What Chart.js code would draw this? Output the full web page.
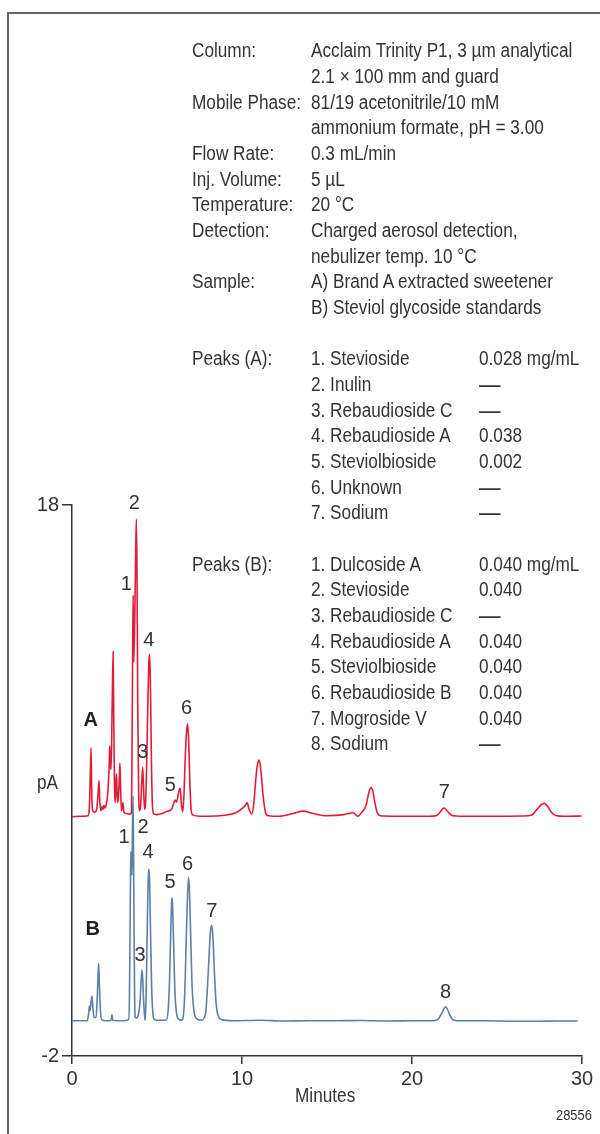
<!DOCTYPE html>
<html>
<head>
<meta charset="utf-8">
<script src="https://cdn.jsdelivr.net/npm/chart.js@4.4.1/dist/chart.umd.min.js"></script>
<style>
    body { margin: 0; background: #fff; }
    #wrap { position: relative; width: 600px; height: 1134px; overflow: hidden; color: #333;
            font-family: 'Liberation Sans', Arial, sans-serif; }
    #frame { position: absolute; left: 7px; top: 12px; width: 700px; height: 1200px;
             border-left: 2px solid #666; border-top: 2px solid #666; }
    #chart { position: absolute; left: 0; top: 0; }
    .t { position: absolute; font-size: 20px; line-height: 26px; white-space: nowrap;
         transform: scaleX(0.86); transform-origin: 0 50%; }
</style>
</head>
<body>
<div id="wrap">
    <div id="frame"></div>
    <canvas id="chart" width="600" height="1134"></canvas>
    <div id="info"></div>
</div>
<script>
// trace A: Brand A extracted sweetener (red)
var timesA = [0, 0.5, 0.95, 1.02, 1.07, 1.12, 1.16, 1.22, 1.35, 1.45, 1.52, 1.59, 1.64, 1.7, 1.76, 1.82, 1.88, 1.95,
    2.02, 2.08, 2.14, 2.19, 2.22, 2.26, 2.3, 2.36, 2.42, 2.46, 2.5, 2.54, 2.58, 2.62, 2.66, 2.7, 2.75, 2.79, 2.82, 2.86,
    2.91, 2.96, 3.0, 3.05, 3.2, 3.4, 3.5, 3.53, 3.57, 3.6, 3.63, 3.7, 3.76, 3.79, 3.83, 3.87, 3.92, 3.98,
    4.04, 4.1, 4.16, 4.21, 4.27, 4.32, 4.39, 4.46, 4.52, 4.57, 4.62, 4.67, 4.73, 4.8, 5.0, 5.3, 5.6, 5.85, 5.95,
    6.06, 6.15, 6.25, 6.33, 6.37, 6.43, 6.51, 6.58, 6.66, 6.73, 6.8, 6.86, 6.93, 7.0, 7.1, 7.5, 8.0, 9.0, 9.6,
    10.0, 10.2, 10.3, 10.42, 10.57, 10.7, 10.82, 10.92, 11.02, 11.12, 11.25, 11.38, 11.55, 12.2, 13.0, 13.6, 14.2,
    15.0, 16.0, 16.55, 16.8, 17.05, 17.3, 17.42, 17.52, 17.6, 17.7, 17.8, 17.92, 18.05, 18.3, 19.5, 21.0, 21.45,
    21.65, 21.8, 21.9, 22.02, 22.2, 22.4, 23.5, 25, 26.5, 27.05, 27.35, 27.6, 27.78, 27.95, 28.2, 28.45, 29.0, 29.98];
var valuesA = [6.69, 6.7, 6.72, 7.0, 8.0, 9.19, 7.6, 6.9, 6.85, 6.95, 7.4, 8.0, 7.2, 6.9, 7.05, 6.95, 7.1, 7.0,
    7.15, 7.4, 7.9, 8.6, 9.26, 8.6, 8.4, 10.6, 12.68, 10.0, 7.8, 7.2, 7.9, 8.24, 7.4, 7.2, 7.6, 8.2, 8.63, 7.7,
    6.9, 7.05, 7.2, 6.85, 6.8, 6.78, 6.85, 9.0, 13.0, 14.73, 12.3, 14.2, 16.8, 17.49, 15.0, 10.5, 7.6, 6.9,
    7.1, 7.9, 8.48, 7.7, 6.95, 7.1, 8.5, 10.8, 12.3, 12.59, 11.2, 8.8, 7.1, 6.8, 6.76, 6.8, 6.88, 6.95, 7.1,
    7.29, 7.22, 7.5, 7.7, 7.72, 7.2, 6.86, 7.4, 8.8, 9.7, 10.06, 9.5, 8.0, 7.0, 6.75, 6.7, 6.7, 6.74, 6.82,
    6.98, 7.1, 7.2, 6.95, 6.78, 7.2, 8.1, 8.6, 8.74, 8.3, 7.4, 6.85, 6.72, 6.7, 6.8, 6.89, 6.8,
    6.72, 6.76, 6.83, 6.7, 6.85, 7.1, 7.45, 7.68, 7.74, 7.6, 7.25, 6.9, 6.75, 6.71, 6.7, 6.7, 6.73,
    6.85, 6.97, 7.0, 6.93, 6.8, 6.72, 6.7, 6.7, 6.71, 6.75, 6.95, 7.12, 7.17, 7.08, 6.85, 6.73, 6.7, 6.71];

// trace B: steviol glycoside standards (blue)
var timesB = [0, 0.9, 0.97, 1.02, 1.07, 1.12, 1.18, 1.23, 1.29, 1.42, 1.49, 1.53, 1.57, 1.61, 1.67, 1.75, 2.0, 2.3,
    2.35, 2.4, 3.0, 3.33, 3.38, 3.42, 3.45, 3.47, 3.5, 3.53, 3.56, 3.59, 3.62, 3.65, 3.68, 3.71, 3.78, 3.9, 3.98,
    4.04, 4.09, 4.12, 4.16, 4.22, 4.28, 4.31, 4.36, 4.41, 4.46, 4.5, 4.53, 4.57, 4.62, 4.68, 4.75, 4.82, 5.0, 5.55,
    5.66, 5.74, 5.8, 5.85, 5.88, 5.92, 5.98, 6.05, 6.14, 6.25, 6.45, 6.58, 6.66, 6.73, 6.8, 6.86, 6.91, 6.98, 7.06,
    7.16, 7.3, 7.6, 7.85, 7.95, 8.05, 8.14, 8.22, 8.29, 8.38, 8.48, 8.6, 8.8, 9.5, 11, 12.5, 14, 15.5, 17, 18.5, 20,
    21.2, 21.5, 21.75, 21.9, 21.98, 22.08, 22.25, 22.45, 22.8, 24.5, 26, 27.5, 28.5, 29.75];
var valuesB = [-0.72, -0.72, -0.5, -0.19, -0.35, -0.05, 0.18, -0.25, -0.6, -0.6, 0.2, 0.9, 1.36, 0.6, -0.3, -0.68, -0.72, -0.7,
    -0.5, -0.7, -0.72, -0.68, 0.2, 3.0, 5.0, 5.42, 4.8, 4.57, 6.5, 7.44, 5.5, 2.5, 0.4, -0.57, -0.62, -0.5, -0.2,
    0.4, 0.95, 1.12, 0.8, -0.1, -0.6, -0.7, 0.2, 2.0, 3.8, 4.6, 4.79, 4.2, 2.5, 0.6, -0.4, -0.66, -0.7, -0.7,
    -0.3, 0.8, 2.3, 3.4, 3.75, 3.4, 2.0, 0.4, -0.4, -0.65, -0.7, -0.35, 0.8, 2.5, 3.9, 4.49, 4.0, 2.4, 0.6,
    -0.3, -0.62, -0.7, -0.5, 0.3, 1.5, 2.5, 2.74, 2.3, 1.0, -0.1, -0.55, -0.68, -0.72, -0.7, -0.73, -0.72, -0.72, -0.71, -0.73, -0.72,
    -0.72, -0.68, -0.45, -0.26, -0.21, -0.3, -0.55, -0.7, -0.72, -0.72, -0.74, -0.74, -0.73, -0.73];

// peak numbers and apexes
var peakNumA = ['1', '2', '3', '4', '5', '6', '7'];
var peakTimeA = [3.6, 3.79, 4.16, 4.57, 6.37, 6.8, 21.9];
var peakTopA = [14.73, 17.49, 8.48, 12.59, 7.72, 10.06, 7.0];
var peakNumB = ['1', '2', '3', '4', '5', '6', '7', '8'];
var peakTimeB = [3.47, 3.59, 4.12, 4.53, 5.88, 6.86, 8.22, 21.98];
var peakTopB = [5.42, 7.44, 1.12, 4.79, 3.75, 4.49, 2.74, -0.21];

var xTicks = [0, 10, 20, 30];
var yTicks = [-2, 18];

// conditions / peaks text block
var infoLabels = ['Column:', '', 'Mobile Phase:', '', 'Flow Rate:', 'Inj. Volume:', 'Temperature:', 'Detection:', '', 'Sample:', '', '',
    'Peaks (A):', '', '', '', '', '', '', '',
    'Peaks (B):', '', '', '', '', '', '', ''];
var infoValues = ['Acclaim Trinity P1, 3 µm analytical', '2.1 × 100 mm and guard', '81/19 acetonitrile/10 mM',
    'ammonium formate, pH = 3.00', '0.3 mL/min', '5 µL', '20 °C', 'Charged aerosol detection,', 'nebulizer temp. 10 °C',
    'A) Brand A extracted sweetener', 'B) Steviol glycoside standards', '',
    '1. Stevioside', '2. Inulin', '3. Rebaudioside C', '4. Rebaudioside A', '5. Steviolbioside', '6. Unknown', '7. Sodium', '',
    '1. Dulcoside A', '2. Stevioside', '3. Rebaudioside C', '4. Rebaudioside A', '5. Steviolbioside', '6. Rebaudioside B',
    '7. Mogroside V', '8. Sodium'];
var infoAmounts = ['', '', '', '', '', '', '', '', '', '', '', '',
    '0.028 mg/mL', '—', '—', '0.038', '0.002', '—', '—', '',
    '0.040 mg/mL', '0.040', '—', '0.040', '0.040', '0.040', '0.040', '—'];

var info = document.getElementById('info');
function addText(txt, left, rowTop, extra) {
    if (!txt) return;
    var d = document.createElement('div');
    d.className = 't';
    d.style.left = left + 'px';
    d.style.top = rowTop + 'px';
    if (extra) d.style.cssText += extra;
    d.textContent = txt;
    info.appendChild(d);
}
for (var i = 0; i < infoLabels.length; i++) {
    var rowTop = 50 + 25.67 * i - 12.8;
    addText(infoLabels[i], 192, rowTop);
    addText(infoValues[i], 311, rowTop);
    // the dashes are longer in the original
    addText(infoAmounts[i], 479, rowTop, infoAmounts[i] == '—' ? 'font-size:25px;' : '');
}
addText('pA', 37, 769);
addText('Minutes', 295, 1082);
addText('28556', 556, 1102, 'font-size:15px;');

function toXY(ts, vs) {
    var out = [];
    for (var i = 0; i < ts.length; i++) out.push({ x: ts[i], y: vs[i] });
    return out;
}

var FONT = "'Liberation Sans', Arial, sans-serif";

var peakLabels = {
    id: 'peakLabels',
    afterDatasetsDraw: function (chart) {
        var ctx = chart.ctx, x = chart.scales.x, y = chart.scales.y;
        var shiftA = [[-7, -11], [-2, -16], [0, -15], [-1, -14], [-10, -3], [-1, -15], [0, -16]];
        var shiftB = [[-7, -14], [10, 32], [-2, -15], [-1, -16], [-2, -15], [-1, -13], [0, -14], [0, -14]];
        ctx.save();
        ctx.fillStyle = '#333';
        ctx.textAlign = 'center';
        ctx.textBaseline = 'middle';
        ctx.font = '20px ' + FONT;
        for (var i = 0; i < peakNumA.length; i++) {
            ctx.fillText(peakNumA[i], x.getPixelForValue(peakTimeA[i]) + shiftA[i][0], y.getPixelForValue(peakTopA[i]) + shiftA[i][1]);
        }
        for (var j = 0; j < peakNumB.length; j++) {
            ctx.fillText(peakNumB[j], x.getPixelForValue(peakTimeB[j]) + shiftB[j][0], y.getPixelForValue(peakTopB[j]) + shiftB[j][1]);
        }
        ctx.font = 'bold 20px ' + FONT;
        ctx.fillStyle = '#222';
        ctx.fillText('A', x.getPixelForValue(1.1), y.getPixelForValue(10.17));
        ctx.fillText('B', x.getPixelForValue(1.22), y.getPixelForValue(2.61));
        ctx.restore();
    }
};

var chart = new Chart(document.getElementById('chart'), {
    type: 'line',
    data: {
        datasets: [{
            label: 'B',
            data: toXY(timesB, valuesB),
            borderColor: '#5b80aa',
            borderWidth: 1.6,
            pointRadius: 0,
            cubicInterpolationMode: 'monotone'
        }, {
            label: 'A',
            data: toXY(timesA, valuesA),
            borderColor: '#e21b38',
            borderWidth: 1.6,
            pointRadius: 0,
            cubicInterpolationMode: 'monotone'
        }]
    },
    options: {
        responsive: false,
        animation: false,
        devicePixelRatio: 1,
        layout: { padding: { left: 0, top: 505, right: 18, bottom: 0 } },
        plugins: { legend: { display: false }, tooltip: { enabled: false } },
        scales: {
            x: {
                type: 'linear',
                min: 0,
                max: 30,
                afterBuildTicks: function (s) { s.ticks = xTicks.map(function (v) { return { value: v }; }); },
                afterFit: function (s) { s.height = 78; },
                grid: { drawOnChartArea: false, drawTicks: true, tickLength: 8, color: '#333', lineWidth: 1.5 },
                border: { color: '#333', width: 1.5 },
                ticks: { color: '#333', padding: 3, maxRotation: 0, font: { family: FONT, size: 20 } }
            },
            y: {
                type: 'linear',
                min: -2,
                max: 18,
                afterBuildTicks: function (s) { s.ticks = yTicks.map(function (v) { return { value: v }; }); },
                afterFit: function (s) { s.width = 72; },
                grid: { drawOnChartArea: false, drawTicks: true, tickLength: 10, color: '#333', lineWidth: 1.5 },
                border: { color: '#333', width: 1.5 },
                ticks: { color: '#333', padding: 3, font: { family: FONT, size: 20 } }
            }
        }
    },
    plugins: [peakLabels]
});
</script>
</body>
</html>
